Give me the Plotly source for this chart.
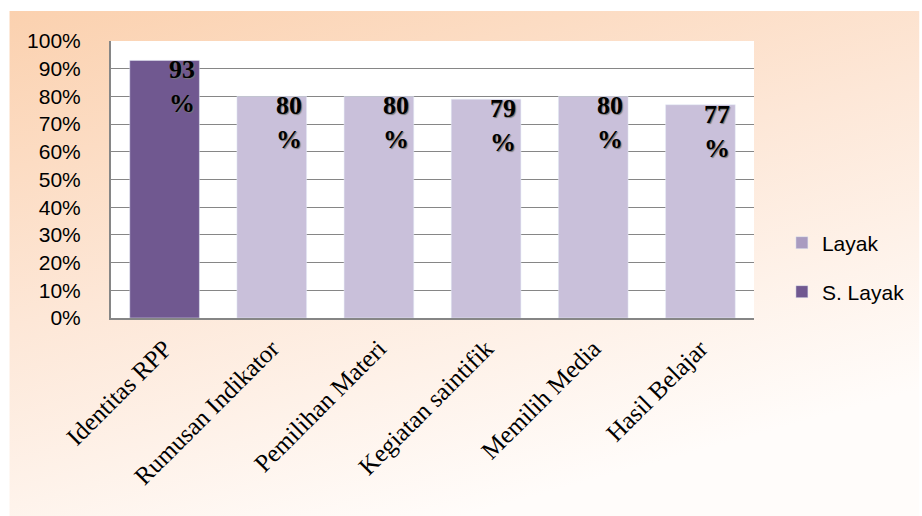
import base64
import plotly.graph_objects as go

categories = ["Identitas RPP", "Rumusan Indikator", "Pemilihan Materi",
              "Kegiatan saintifik", "Memilih Media", "Hasil Belajar"]
layak = [None, 0.80, 0.80, 0.79, 0.80, 0.77]
s_layak = [0.93, None, None, None, None, None]
label_values = [93, 80, 80, 79, 80, 77]
label_y = [0.93, 0.80, 0.80, 0.79, 0.80, 0.77]

C_LAYAK = "#C9C0DA"
C_LAYAK_LEG = "#A99BC0"
C_SLAYAK = "#705890"

svg = ('<svg xmlns="http://www.w3.org/2000/svg" width="913" height="505" '
       'viewBox="0 0 913 505" preserveAspectRatio="none"><defs>'
       '<linearGradient id="g" x1="0" y1="0" x2="0.5" y2="1">'
       '<stop offset="0" stop-color="#FBD1AF"/>'
       '<stop offset="0.5" stop-color="#FDE7D7"/>'
       '<stop offset="1" stop-color="#FFFCFA"/>'
       '</linearGradient></defs><rect width="913" height="505" fill="url(#g)"/></svg>')
bg_uri = "data:image/svg+xml;base64," + base64.b64encode(svg.encode()).decode()

fig = go.Figure()
fig.add_trace(go.Bar(x=categories, y=layak, marker_color=C_LAYAK,
                     showlegend=False, hoverinfo="skip"))
fig.add_trace(go.Bar(x=categories, y=s_layak, marker_color=C_SLAYAK,
                     showlegend=False, hoverinfo="skip"))
# legend entries
fig.add_trace(go.Bar(x=[categories[0]], y=[None], marker_color=C_LAYAK_LEG,
                     name="Layak", legend="legend"))
fig.add_trace(go.Bar(x=[categories[0]], y=[None], marker_color=C_SLAYAK,
                     name="S. Layak", legend="legend2"))

for c, v, yv in zip(categories, label_values, label_y):
    fig.add_annotation(x=c, y=yv, text=f"{v}<br>%", showarrow=False,
                       xanchor="center", yanchor="top", xshift=17, yshift=7,
                       font=dict(family="Liberation Serif", size=26, color="black",
                                 weight="bold", shadow="1px 1px 1px #777"))

W, H = 922, 516
L, R, T, B = 111, 756, 41, 318
pw, ph = R - L, B - T

def px_x(x):
    return (x - L) / pw

def px_y(y):
    return (B - y) / ph

fig.add_layout_image(source=bg_uri, xref="paper", yref="paper",
                     x=px_x(9), y=px_y(11), sizex=(W - 9) / pw, sizey=(H - 11) / ph,
                     xanchor="left", yanchor="top", sizing="stretch", layer="below")
fig.add_shape(type="rect", xref="paper", yref="paper", x0=0, x1=1, y0=0, y1=1,
              fillcolor="white", line_width=0, layer="below")

legend_font = dict(family="Liberation Sans", size=21, color="black")
fig.update_layout(
    width=W, height=H,
    margin=dict(l=L, r=W - R, t=T, b=H - B),
    paper_bgcolor="white", plot_bgcolor="white",
    barmode="relative", bargap=0.35,
    legend=dict(x=px_x(784), y=px_y(243), xanchor="left", yanchor="middle",
                font=legend_font, bgcolor="rgba(0,0,0,0)"),
    legend2=dict(x=px_x(784), y=px_y(292), xanchor="left", yanchor="middle",
                 font=legend_font, bgcolor="rgba(0,0,0,0)"),
    xaxis=dict(tickangle=-45, tickfont=dict(family="Liberation Serif", size=25, color="black"),
               showline=True, linecolor="#868686", linewidth=2, showgrid=False,
               ticks="outside", ticklen=4, tickcolor="rgba(0,0,0,0)",
               automargin=False, fixedrange=True),
    yaxis=dict(range=[0, 1], dtick=0.1, tickformat=".0%",
               tickfont=dict(family="Liberation Sans", size=21, color="black"),
               showline=True, linecolor="#868686", linewidth=2,
               gridcolor="#868686", gridwidth=1.3, ticklabelstandoff=24,
               automargin=False, zeroline=False, fixedrange=True),
)

fig.write_html("out.html")
